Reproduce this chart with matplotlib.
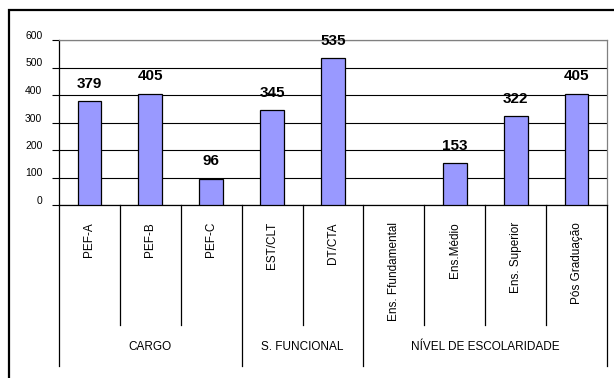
import numpy as np
import matplotlib
matplotlib.use('Agg')
import matplotlib.pyplot as plt
from matplotlib.patches import Rectangle
from matplotlib.transforms import ScaledTranslation

plt.rcParams['font.family'] = ['Liberation Sans', 'DejaVu Sans']

# dados
categorias = ['PEF-A', 'PEF-B', 'PEF-C', 'EST/CLT', 'DT/CTA',
              'Ens. Ffundamental', 'Ens.Médio', 'Ens. Superior', 'Pós Graduação']
valores = [379, 405, 96, 345, 535, np.nan, 153, 322, 405]
grupos = ['CARGO', 'S. FUNCIONAL', 'NÍVEL DE ESCOLARIDADE']
tamanho_grupos = [3, 2, 4]
y_ticks = [0, 100, 200, 300, 400, 500, 600]

fig = plt.figure(figsize=(6.14, 3.78), dpi=100)
W, H = 614, 378

# moldura externa
fig.patches.append(Rectangle((9 / W, 1 - 385 / H), 620 / W, 375 / H,
                             transform=fig.transFigure, fill=False,
                             edgecolor='black', linewidth=1.6))

ax = fig.add_axes([59 / W, 1 - 205 / H, 548 / W, 165 / H])
x = np.arange(len(categorias))
ax.bar(x, valores, width=0.39, color='#9999FF', edgecolor='black',
       linewidth=0.9, zorder=3)

for xi, v in zip(x, valores):
    if np.isnan(v):
        continue
    ax.annotate(f'{int(v)}', (xi, v), xytext=(0, 9.5), textcoords='offset points',
                ha='center', va='baseline', fontsize=11, fontweight='bold',
                zorder=4)

ax.set_xlim(-0.5, len(categorias) - 0.5)
ax.set_ylim(0, 600)
ax.set_yticks(y_ticks)
ax.yaxis.grid(True, color='black', linewidth=0.8, zorder=0)
ax.set_xticks([])
ax.tick_params(axis='y', length=5, width=0.8, direction='out', pad=7,
               labelsize=7.5)
off = ScaledTranslation(0, 0.05, fig.dpi_scale_trans)
for lbl in ax.get_yticklabels():
    lbl.set_transform(lbl.get_transform() + off)

for s in ['top', 'right']:
    ax.spines[s].set_color('#808080')
    ax.spines[s].set_linewidth(0.9)
for s in ['left', 'bottom']:
    ax.spines[s].set_color('black')
    ax.spines[s].set_linewidth(0.9)

# eixo de categorias em dois níveis
tr = ax.get_xaxis_transform()
h = 165.0
y_cat = -(325 - 205) / h
y_grp = -(366 - 205) / h
limites = np.cumsum([0] + tamanho_grupos)
for b in range(len(categorias) + 1):
    y_end = y_grp if b in limites else y_cat
    ax.plot([b - 0.5, b - 0.5], [0, y_end], color='black', linewidth=0.9,
            transform=tr, clip_on=False)

for xi, c in zip(x, categorias):
    ax.text(xi, -(222 - 205) / h, c, rotation=90, ha='center', va='top',
            fontsize=8.5, transform=tr)

for g, a, b in zip(grupos, limites[:-1], limites[1:]):
    ax.text((a + b - 1) / 2, -(347 - 205) / h, g, ha='center', va='center',
            fontsize=8.5, transform=tr)

fig.savefig('out.png', dpi=100)
